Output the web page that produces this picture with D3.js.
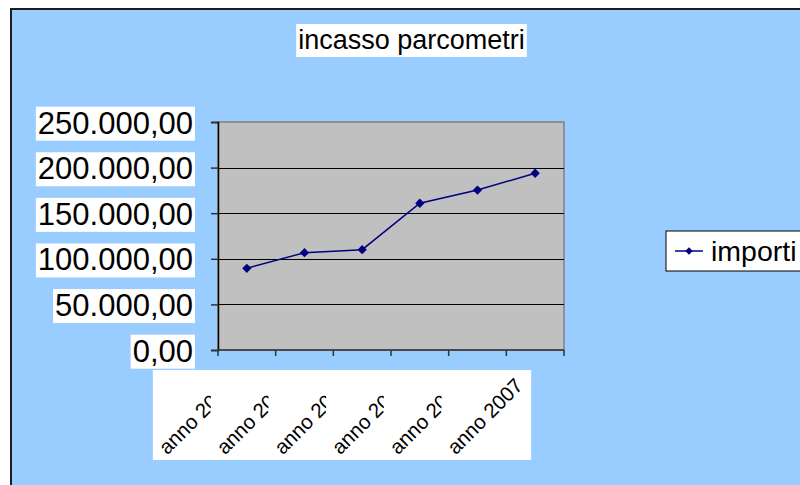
<!DOCTYPE html>
<html>
<head>
<meta charset="utf-8">
<script src="https://cdn.jsdelivr.net/npm/d3@7/dist/d3.min.js"></script>
<style>
    html, body {
        margin: 0;
        padding: 0;
        background: #fff;
    }
    svg text {
        font-family: "Liberation Sans", Arial, sans-serif;
        fill: #000;
    }
</style>
</head>
<body>
<script>
    // data
    const categories = ['anno 2002', 'anno 2003', 'anno 2004', 'anno 2005', 'anno 2006', 'anno 2007'];
    const importi = [89600, 106700, 110000, 160900, 175400, 193800];
    const yTicks = [0, 50000, 100000, 150000, 200000, 250000];
    const seriesName = 'importi';
    const chartTitle = 'incasso parcometri';

    const width = 800, height = 485;
    const plot = { left: 218, right: 564, top: 122, bottom: 350 };

    const it = d3.formatLocale({ decimal: ',', thousands: '.', grouping: [3], currency: ['€', ''] });
    const fmt = it.format(',.2f');

    const svg = d3.select('body').append('svg')
        .attr('width', width)
        .attr('height', height);

    // chart frame
    svg.append('rect')
        .attr('x', 11).attr('y', 9)
        .attr('width', width).attr('height', height)
        .attr('fill', '#99ccff')
        .attr('stroke', '#1c1c1c')
        .attr('stroke-width', 2);

    const x = d3.scaleBand()
        .domain(categories)
        .range([plot.left, plot.right]);

    const y = d3.scaleLinear()
        .domain([0, 250000])
        .range([plot.bottom, plot.top]);

    // plot area
    svg.append('rect')
        .attr('x', plot.left).attr('y', plot.top)
        .attr('width', plot.right - plot.left)
        .attr('height', plot.bottom - plot.top)
        .attr('fill', '#c0c0c0')
        .attr('stroke', '#808080')
        .attr('stroke-width', 1.5);

    // gridlines
    svg.append('g')
        .selectAll('line')
        .data(yTicks.filter(d => d > 0 && d < 250000))
        .join('line')
        .attr('x1', plot.left).attr('x2', plot.right)
        .attr('y1', d => Math.round(y(d)) + 0.5)
        .attr('y2', d => Math.round(y(d)) + 0.5)
        .attr('stroke', '#000')
        .attr('stroke-width', 1);

    // y axis
    const yAxis = svg.append('g')
        .attr('transform', `translate(${plot.left},0)`)
        .call(d3.axisLeft(y).tickValues(yTicks).tickSize(7).tickPadding(18).tickFormat(fmt));
    yAxis.select('.domain').attr('stroke', '#000').attr('stroke-width', 1.5);
    yAxis.selectAll('.tick line').attr('stroke', '#333').attr('stroke-width', 1.5);
    yAxis.selectAll('.tick text')
        .style('font-family', '"Liberation Sans", Arial, sans-serif')
        .style('font-size', '31px')
        .attr('fill', '#000')
        .attr('dy', '0.36em');
    // white boxes behind the y labels
    yAxis.selectAll('.tick').each(function () {
        const t = d3.select(this).select('text');
        const b = t.node().getBBox();
        d3.select(this).insert('rect', () => t.node())
            .attr('x', b.x - 2).attr('y', b.y + 1)
            .attr('width', b.width + 4).attr('height', b.height - 1)
            .attr('fill', '#fff');
    });

    // x axis
    const xAxis = svg.append('g')
        .attr('transform', `translate(0,${plot.bottom})`);
    xAxis.append('line')
        .attr('x1', plot.left).attr('x2', plot.right)
        .attr('stroke', '#333').attr('stroke-width', 1.5);
    const bounds = categories.map(c => x(c)).concat([plot.right]);
    xAxis.selectAll('line.tk')
        .data(bounds)
        .join('line')
        .attr('class', 'tk')
        .attr('x1', d => d).attr('x2', d => d)
        .attr('y1', 0).attr('y2', 6)
        .attr('stroke', '#333').attr('stroke-width', 1.5);

    const cx = d => x(d) + x.bandwidth() / 2;
    const last = categories[categories.length - 1];

    // one white box behind all x labels
    xAxis.append('rect')
        .attr('x', cx(categories[0]) - 94)
        .attr('y', 20)
        .attr('width', cx(last) - 4 - (cx(categories[0]) - 94))
        .attr('height', 90)
        .attr('fill', '#fff');

    const defs = svg.append('defs');
    categories.forEach((c, i) => {
        if (c === last) return;
        defs.append('clipPath').attr('id', 'clip' + i)
            .append('rect')
            .attr('x', 0).attr('y', 0)
            .attr('width', cx(c) - 36).attr('height', height);
    });

    xAxis.selectAll('g.lbl')
        .data(categories)
        .join('g')
        .attr('class', 'lbl')
        .attr('transform', `translate(0,${-plot.bottom})`)
        .attr('clip-path', (d, i) => d === last ? null : `url(#clip${i})`)
        .append('text')
        .attr('transform', d => `translate(${cx(d) - 11},${plot.bottom + 37}) rotate(-45)`)
        .attr('text-anchor', 'end')
        .style('font-size', '20.5px')
        .text(d => d);

    // series line
    const line = d3.line()
        .x((d, i) => cx(categories[i]))
        .y(d => y(d));

    svg.append('path')
        .datum(importi)
        .attr('d', line)
        .attr('fill', 'none')
        .attr('stroke', '#000080')
        .attr('stroke-width', 1.5);

    const diamond = d3.symbol().type(d3.symbolDiamond2).size(55);
    svg.append('g')
        .selectAll('path')
        .data(importi)
        .join('path')
        .attr('transform', (d, i) => `translate(${cx(categories[i])},${y(d)})`)
        .attr('d', diamond)
        .attr('fill', '#000080');

    // title
    const titleG = svg.append('g');
    const titleBox = titleG.append('rect').attr('fill', '#fff');
    const title = titleG.append('text')
        .attr('x', (296 + 527) / 2)
        .attr('y', 49)
        .attr('text-anchor', 'middle')
        .style('font-size', '27px')
        .text(chartTitle);
    const tb = title.node().getBBox();
    titleBox
        .attr('x', tb.x - 2).attr('y', 24)
        .attr('width', tb.width + 4).attr('height', 33);

    // legend
    const legend = svg.append('g').attr('transform', 'translate(666,231)');
    legend.append('rect')
        .attr('width', 200).attr('height', 40)
        .attr('fill', '#fff')
        .attr('stroke', '#000')
        .attr('stroke-width', 1);
    legend.append('line')
        .attr('x1', 9).attr('x2', 37)
        .attr('y1', 20).attr('y2', 20)
        .attr('stroke', '#000080').attr('stroke-width', 1.5);
    legend.append('path')
        .attr('transform', 'translate(23,20)')
        .attr('d', d3.symbol().type(d3.symbolDiamond2).size(36))
        .attr('fill', '#000080');
    legend.append('text')
        .attr('x', 45).attr('y', 30)
        .style('font-size', '28.5px')
        .text(seriesName);
</script>
</body>
</html>
